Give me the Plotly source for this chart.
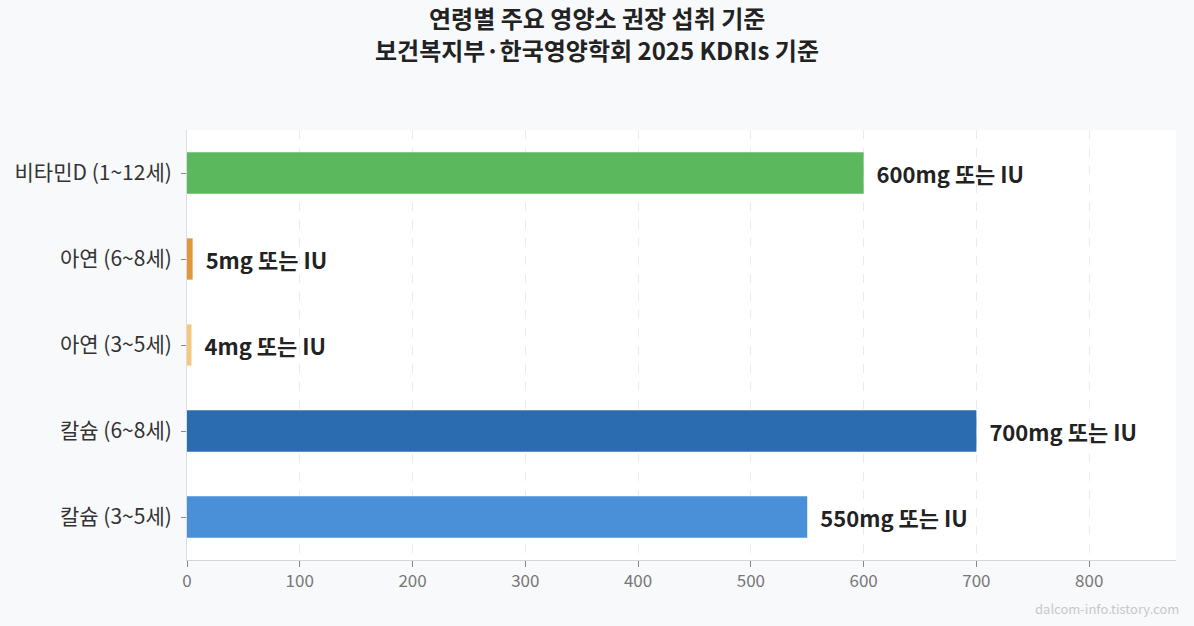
import plotly.graph_objects as go

# data
categories = ["칼슘 (3~5세)", "칼슘 (6~8세)", "아연 (3~5세)", "아연 (6~8세)", "비타민D (1~12세)"]
values = [550, 700, 4, 5, 600]
labels = ["550mg 또는 IU", "700mg 또는 IU", "4mg 또는 IU", "5mg 또는 IU", "600mg 또는 IU"]
colors = ["#4a90d9", "#2b6cb0", "#f6c87e", "#e0963a", "#5cb85c"]
titleLines = ["연령별 주요 영양소 권장 섭취 기준", "보건복지부·한국영양학회 2025 KDRIs 기준"]

fontName = "Noto Sans CJK KR, Noto Sans, sans-serif"

fig = go.Figure()
fig.add_trace(go.Bar(
    x=values, y=categories, orientation="h",
    marker=dict(color=colors, line=dict(width=0)),
    text=labels, texttemplate="\u00a0\u00a0%{text}", textposition="outside", cliponaxis=False,
    textfont=dict(size=22, color="#222", family=fontName, weight="bold"),
    width=0.48, showlegend=False,
))

fig.update_layout(
    width=1194, height=626,
    paper_bgcolor="#f8f9fb", plot_bgcolor="#ffffff",
    margin=dict(l=187, r=18, t=130, b=66),
    font=dict(family=fontName, color="#333"),
)
# two title lines, placed as annotations to get the tighter line spacing
for line, yPos in zip(titleLines, [(560 - 18) / 430, (560 - 49) / 430]):
    fig.add_annotation(
        text=line, xref="paper", yref="paper", x=(597 - 187) / 989, y=yPos,
        xanchor="center", yanchor="middle", showarrow=False,
        font=dict(size=24, color="#222", family=fontName, weight="bold"),
    )
fig.update_xaxes(
    range=[0, 877], dtick=100, showgrid=True, gridcolor="#ebebeb", griddash="dash",
    showline=True, linecolor="#d5d5d5", ticks="outside", tickcolor="#888", ticklen=6,
    tickfont=dict(size=17, color="#777"), zeroline=False,
)
fig.update_yaxes(
    range=[-0.5, 4.5], showgrid=False, showline=True, linecolor="#dddddd",
    ticks="outside", tickcolor="#888", ticklen=5, ticklabelstandoff=5,
    tickfont=dict(size=21, color="#333"), zeroline=False,
)
fig.add_annotation(
    text="dalcom-info.tistory.com", xref="paper", yref="paper",
    x=1.005, y=-0.085, xanchor="right", yanchor="top", showarrow=False,
    font=dict(size=13, color="#c8c8c8"),
)

fig.write_html("out.html", config={"displayModeBar": False},
               post_script="document.body.style.margin='0';")
